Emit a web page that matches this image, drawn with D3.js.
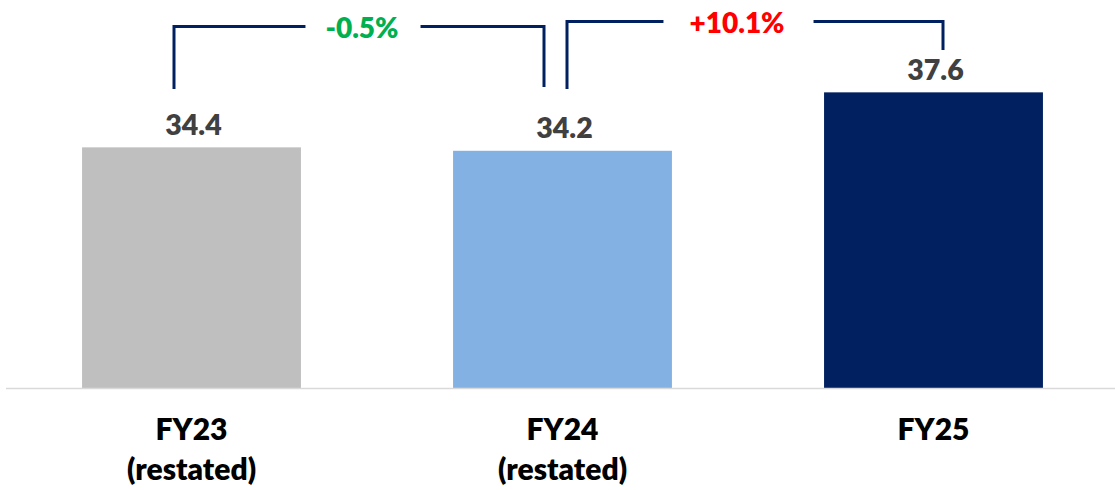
<!DOCTYPE html>
<html>
<head>
<meta charset="utf-8">
<script src="https://cdn.jsdelivr.net/npm/d3@7"></script>
<style>
  html, body { margin: 0; padding: 0; background: #ffffff; }
  svg { display: block; }
</style>
</head>
<body>
<svg id="chart" width="1115" height="490"></svg>
<script>
// ---- data ----
const categories = ["FY23", "FY24", "FY25"];
const subLabels = ["(restated)", "(restated)", ""];
const values = [34.4, 34.2, 37.6];
const valueLabels = ["34.4", "34.2", "37.6"];
const changeLabels = ["-0.5%", "+10.1%"];
const changeFrom = ["FY23", "FY24"];
const changeTo = ["FY24", "FY25"];

// ---- styles ----
const barColors = ["#bfbfbf", "#84b1e4", "#002060"];
const changeColors = ["#00b050", "#ff0000"];
const bracketColor = "#002060";
const FONT = "Lato, 'Open Sans', sans-serif";
const WEIGHT = 800;

const svg = d3.select("#chart");
const W = 1115, H = 490;

const x = d3.scaleBand().domain(categories).range([6, 1119])
  .paddingInner(0.41).paddingOuter(0.205);
const y = d3.scaleLinear().domain([20.4, 40]).range([388, 51.1]);

// bars
svg.append("g").selectAll("rect").data(categories).join("rect")
  .attr("x", d => x(d))
  .attr("width", x.bandwidth())
  .attr("y", (d, i) => y(values[i]))
  .attr("height", (d, i) => y(y.domain()[0]) - y(values[i]))
  .attr("fill", (d, i) => barColors[i]);

// axis
const axis = svg.append("g").attr("transform", `translate(0,${y(y.domain()[0])})`)
  .call(d3.axisBottom(x).tickSize(0).tickFormat(""));
axis.select(".domain").attr("stroke", "#d9d9d9").attr("stroke-width", 1.5)
  .attr("d", `M6,0.5H${W}`);

// category labels
const cat = svg.append("g").selectAll("text").data(categories).join("text")
  .attr("text-anchor", "middle")
  .attr("font-family", FONT).attr("font-weight", WEIGHT)
  .attr("font-size", 30).attr("fill", "#000000");
cat.append("tspan").attr("x", d => x(d) + x.bandwidth() / 2).attr("y", 440).text(d => d);
cat.append("tspan").attr("x", d => x(d) + x.bandwidth() / 2).attr("y", 480)
  .text((d, i) => subLabels[i]);

// value labels
svg.append("g").selectAll("text").data(categories).join("text")
  .attr("x", d => x(d) + x.bandwidth() / 2 + 2)
  .attr("y", (d, i) => y(values[i]) - 12.5)
  .attr("text-anchor", "middle")
  .attr("font-family", FONT).attr("font-weight", WEIGHT)
  .attr("font-size", 28.5).attr("fill", "#404040")
  .text((d, i) => valueLabels[i]);

// change brackets (annotation layout offsets)
const ann = [
  { l: -17.5, r: -18.5, top: 26.5, lb: 89, rb: 87, tc: -15, padL: 20, padR: 22 },
  { l: 4.5, r: 9.5, top: 21.5, lb: 89, rb: 50, tc: -11, padL: 26, padR: 29 }
];
const cx = c => x(c) + x.bandwidth() / 2;
changeLabels.forEach((lab, i) => {
  const a = ann[i];
  const x1 = cx(changeFrom[i]) + a.l, x2 = cx(changeTo[i]) + a.r;
  const tx = (cx(changeFrom[i]) + cx(changeTo[i])) / 2 + a.tc;
  const t = svg.append("text")
    .attr("x", tx).attr("y", a.top + 11)
    .attr("text-anchor", "middle")
    .attr("font-family", FONT).attr("font-weight", WEIGHT)
    .attr("font-size", 28).attr("fill", changeColors[i])
    .text(lab);
  const tw = t.node().getComputedTextLength();
  const g1 = tx - tw / 2 - a.padL, g2 = tx + tw / 2 + a.padR;
  svg.append("path")
    .attr("d", `M${x1},${a.lb}V${a.top}H${g1}`)
    .attr("fill", "none").attr("stroke", bracketColor).attr("stroke-width", 3);
  svg.append("path")
    .attr("d", `M${g2},${a.top}H${x2}V${a.rb}`)
    .attr("fill", "none").attr("stroke", bracketColor).attr("stroke-width", 3);
});
</script>
</body>
</html>
